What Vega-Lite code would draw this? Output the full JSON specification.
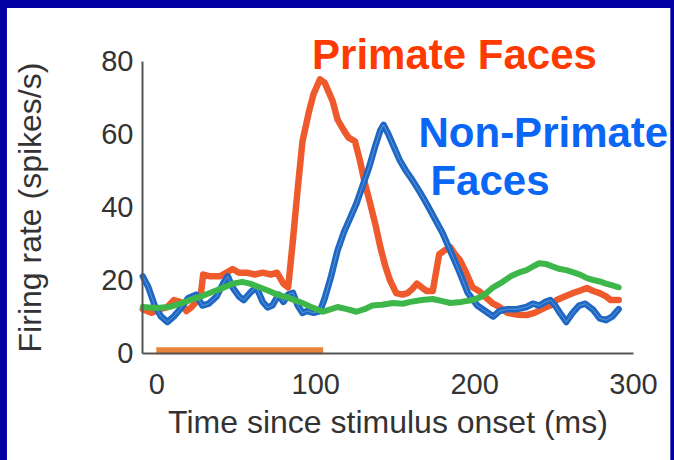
{
  "$schema": "https://vega.github.io/schema/vega-lite/v6.json",
  "width": 491,
  "height": 292,
  "autosize": {"type": "none"},
  "padding": {"left": 142, "top": 61, "right": 41, "bottom": 107},
  "background": "#0000A6",
  "config": {"view": {"stroke": null}, "font": "Liberation Sans"},
  "datasets": {
    "primate": [
      {"time": -8.5, "rate": 12}, {"time": -3, "rate": 11}, {"time": 2, "rate": 12}, {"time": 7, "rate": 12.6}, {"time": 11, "rate": 14.5}, {"time": 15, "rate": 14}, {"time": 19, "rate": 11.5}, {"time": 22, "rate": 12.5}, {"time": 26, "rate": 14.5}, {"time": 28, "rate": 16}, {"time": 29.5, "rate": 21.5}, {"time": 34, "rate": 21}, {"time": 40, "rate": 21}, {"time": 44, "rate": 22}, {"time": 48, "rate": 23}, {"time": 52, "rate": 22}, {"time": 57, "rate": 22}, {"time": 62, "rate": 21.5}, {"time": 67, "rate": 22}, {"time": 72, "rate": 21.5}, {"time": 76, "rate": 22}, {"time": 80, "rate": 19}, {"time": 83, "rate": 18}, {"time": 86, "rate": 31}, {"time": 89, "rate": 45}, {"time": 92, "rate": 58}, {"time": 96, "rate": 66}, {"time": 99, "rate": 71}, {"time": 103, "rate": 75}, {"time": 106, "rate": 74}, {"time": 109, "rate": 71}, {"time": 111, "rate": 69}, {"time": 114, "rate": 64}, {"time": 118, "rate": 61}, {"time": 121, "rate": 59}, {"time": 125, "rate": 58}, {"time": 128, "rate": 53}, {"time": 131, "rate": 47}, {"time": 134, "rate": 42}, {"time": 138, "rate": 35}, {"time": 141, "rate": 29}, {"time": 144, "rate": 24}, {"time": 147, "rate": 20}, {"time": 151, "rate": 16.4}, {"time": 155, "rate": 16}, {"time": 158, "rate": 16.4}, {"time": 161, "rate": 17.5}, {"time": 164, "rate": 19}, {"time": 167, "rate": 18}, {"time": 170, "rate": 17}, {"time": 174, "rate": 17}, {"time": 178, "rate": 27}, {"time": 181, "rate": 28}, {"time": 185, "rate": 29}, {"time": 188, "rate": 27}, {"time": 191, "rate": 25.5}, {"time": 195, "rate": 22}, {"time": 199, "rate": 18}, {"time": 203, "rate": 17}, {"time": 208, "rate": 15}, {"time": 212, "rate": 13.5}, {"time": 216, "rate": 12.6}, {"time": 221, "rate": 11}, {"time": 227, "rate": 10.5}, {"time": 233, "rate": 10.4}, {"time": 238, "rate": 11}, {"time": 244, "rate": 12.3}, {"time": 248, "rate": 13}, {"time": 252, "rate": 14.5}, {"time": 257, "rate": 15.5}, {"time": 262, "rate": 16.4}, {"time": 266, "rate": 17}, {"time": 271, "rate": 17.8}, {"time": 275, "rate": 17}, {"time": 279, "rate": 16.4}, {"time": 283, "rate": 15.5}, {"time": 286, "rate": 14.5}, {"time": 291, "rate": 14.5}
    ],
    "nonprimate": [
      {"time": -8.5, "rate": 21}, {"time": -5, "rate": 18}, {"time": -1, "rate": 13}, {"time": 3, "rate": 10}, {"time": 7, "rate": 8.5}, {"time": 11, "rate": 10}, {"time": 15, "rate": 12}, {"time": 20, "rate": 15}, {"time": 25, "rate": 16}, {"time": 29, "rate": 13}, {"time": 33, "rate": 13.5}, {"time": 38, "rate": 15.5}, {"time": 42, "rate": 19}, {"time": 45, "rate": 21}, {"time": 48, "rate": 18}, {"time": 52, "rate": 15.5}, {"time": 55, "rate": 14.5}, {"time": 59, "rate": 16.5}, {"time": 63, "rate": 18}, {"time": 67, "rate": 14}, {"time": 70, "rate": 12.5}, {"time": 73, "rate": 13}, {"time": 77, "rate": 16}, {"time": 80, "rate": 14}, {"time": 83, "rate": 16}, {"time": 86, "rate": 16.5}, {"time": 89, "rate": 13}, {"time": 92, "rate": 11}, {"time": 95, "rate": 11.5}, {"time": 99, "rate": 11}, {"time": 103, "rate": 11.5}, {"time": 106, "rate": 15}, {"time": 110, "rate": 21}, {"time": 114, "rate": 28}, {"time": 118, "rate": 33}, {"time": 122, "rate": 37}, {"time": 126, "rate": 41}, {"time": 130, "rate": 46}, {"time": 134, "rate": 51}, {"time": 138, "rate": 57}, {"time": 141, "rate": 61}, {"time": 143, "rate": 62.5}, {"time": 146, "rate": 60}, {"time": 150, "rate": 56}, {"time": 153, "rate": 53}, {"time": 157, "rate": 50}, {"time": 161, "rate": 47.5}, {"time": 166, "rate": 44}, {"time": 170, "rate": 41}, {"time": 175, "rate": 37}, {"time": 180, "rate": 33}, {"time": 185, "rate": 28}, {"time": 191, "rate": 22}, {"time": 196, "rate": 16.5}, {"time": 202, "rate": 13}, {"time": 207, "rate": 11.5}, {"time": 212, "rate": 10}, {"time": 216, "rate": 11.5}, {"time": 221, "rate": 12}, {"time": 227, "rate": 12}, {"time": 233, "rate": 12.6}, {"time": 237, "rate": 13.5}, {"time": 241, "rate": 13}, {"time": 245, "rate": 14}, {"time": 248, "rate": 14.5}, {"time": 251, "rate": 13}, {"time": 254, "rate": 11}, {"time": 258, "rate": 8.5}, {"time": 262, "rate": 11}, {"time": 266, "rate": 13}, {"time": 270, "rate": 13.5}, {"time": 275, "rate": 11.8}, {"time": 279, "rate": 9.5}, {"time": 283, "rate": 9}, {"time": 287, "rate": 10}, {"time": 291, "rate": 12}
    ],
    "other": [
      {"time": -8.5, "rate": 12.6}, {"time": 0, "rate": 12.3}, {"time": 8, "rate": 12.6}, {"time": 15, "rate": 13.5}, {"time": 21, "rate": 14.5}, {"time": 27, "rate": 15.3}, {"time": 34, "rate": 16.5}, {"time": 40, "rate": 17.5}, {"time": 48, "rate": 19}, {"time": 54, "rate": 19.5}, {"time": 59, "rate": 19}, {"time": 65, "rate": 18}, {"time": 71, "rate": 17}, {"time": 76, "rate": 16}, {"time": 82, "rate": 15.3}, {"time": 87, "rate": 14.5}, {"time": 92, "rate": 13.7}, {"time": 98, "rate": 12.5}, {"time": 105, "rate": 11.3}, {"time": 110, "rate": 12}, {"time": 114, "rate": 12.6}, {"time": 120, "rate": 12}, {"time": 126, "rate": 11.3}, {"time": 131, "rate": 12}, {"time": 136, "rate": 13}, {"time": 142, "rate": 13.2}, {"time": 149, "rate": 13.7}, {"time": 155, "rate": 13.5}, {"time": 160, "rate": 14}, {"time": 167, "rate": 14.5}, {"time": 174, "rate": 14.8}, {"time": 180, "rate": 14.2}, {"time": 185, "rate": 13.7}, {"time": 192, "rate": 14}, {"time": 199, "rate": 14.5}, {"time": 204, "rate": 15.3}, {"time": 208, "rate": 16.5}, {"time": 212, "rate": 18}, {"time": 218, "rate": 19.5}, {"time": 223, "rate": 21}, {"time": 228, "rate": 22}, {"time": 233, "rate": 22.7}, {"time": 237, "rate": 23.7}, {"time": 241, "rate": 24.6}, {"time": 245, "rate": 24.4}, {"time": 250, "rate": 23.6}, {"time": 254, "rate": 23}, {"time": 258, "rate": 22.7}, {"time": 263, "rate": 22}, {"time": 267, "rate": 21.4}, {"time": 271, "rate": 20.5}, {"time": 275, "rate": 20}, {"time": 279, "rate": 19.6}, {"time": 283, "rate": 19}, {"time": 287, "rate": 18.5}, {"time": 291, "rate": 18}
    ],
    "stimulus": [{"start": 0, "end": 105}]
  },
  "layer": [
    {
      "data": {"values": [{}]},
      "mark": {"type": "rect", "color": "white"},
      "encoding": {
        "x": {"datum": -94, "type": "quantitative", "scale": {"domain": [-9, 300], "nice": false, "zero": false}, "title": "Time since stimulus onset (ms)"},
        "x2": {"datum": 323.5},
        "y": {"datum": 94.5, "type": "quantitative", "scale": {"domain": [0, 80], "nice": false}, "title": "Firing rate (spikes/s)"},
        "y2": {"datum": -40}
      }
    },
    {
      "data": {"name": "primate"},
      "mark": {"type": "line", "color": "#EE5A2C", "strokeWidth": 6.5, "strokeJoin": "round", "strokeCap": "round"},
      "encoding": {
        "x": {
          "field": "time", "type": "quantitative",
          "title": "Time since stimulus onset (ms)",
          "axis": {"zindex": 1, "values": [0, 100, 200, 300], "ticks": false, "tickSize": 0, "grid": false, "labelFontSize": 29, "labelColor": "#333333", "labelPadding": 17, "labelFont": "Liberation Sans", "domainColor": "#555555", "domainWidth": 2, "titleFontSize": 32, "titleFontWeight": "normal", "titleColor": "#333333", "titleFont": "Liberation Sans", "titlePadding": 8, "labelFlush": false, "labelOverlap": false}
        },
        "y": {
          "field": "rate", "type": "quantitative",
          "title": "Firing rate (spikes/s)",
          "axis": {"zindex": 1, "values": [0, 20, 40, 60, 80], "ticks": false, "tickSize": 0, "grid": false, "labelFontSize": 29, "labelColor": "#333333", "labelPadding": 9, "labelFont": "Liberation Sans", "domainColor": "#555555", "domainWidth": 2, "titleFontSize": 32, "titleFontWeight": "normal", "titleColor": "#333333", "titleFont": "Liberation Sans", "titlePadding": 53, "labelFlush": false, "labelOverlap": false}
        }
      }
    },
    {
      "data": {"name": "nonprimate"},
      "mark": {"type": "line", "color": "#1E68C4", "strokeWidth": 6.5, "strokeJoin": "round", "strokeCap": "round"},
      "encoding": {
        "x": {"field": "time", "type": "quantitative"},
        "y": {"field": "rate", "type": "quantitative"}
      }
    },
    {
      "data": {"name": "nonprimate"},
      "mark": {"type": "line", "color": "#A9C8EE", "strokeWidth": 1, "opacity": 0.45},
      "encoding": {
        "x": {"field": "time", "type": "quantitative"},
        "y": {"field": "rate", "type": "quantitative"}
      }
    },
    {
      "data": {"name": "other"},
      "mark": {"type": "line", "color": "#3DB64A", "strokeWidth": 6, "strokeJoin": "round", "strokeCap": "round"},
      "encoding": {
        "x": {"field": "time", "type": "quantitative"},
        "y": {"field": "rate", "type": "quantitative"}
      }
    },
    {
      "data": {"name": "stimulus"},
      "mark": {"type": "rule", "color": "#E8843C", "strokeWidth": 7},
      "encoding": {
        "x": {"field": "start", "type": "quantitative"},
        "x2": {"field": "end"},
        "y": {"datum": 0.6, "type": "quantitative"}
      }
    },
    {
      "data": {"values": [{}]},
      "mark": {"type": "text", "text": "Primate Faces", "font": "Liberation Sans", "fontWeight": "bold", "fontSize": 42, "color": "#FF3A00", "align": "left", "baseline": "alphabetic"},
      "encoding": {
        "x": {"datum": 98, "type": "quantitative"},
        "y": {"datum": 77.7, "type": "quantitative"}
      }
    },
    {
      "data": {"values": [{}]},
      "mark": {"type": "text", "text": "Non-Primate", "font": "Liberation Sans", "fontWeight": "bold", "fontSize": 42, "color": "#0A66F5", "align": "left", "baseline": "alphabetic"},
      "encoding": {
        "x": {"datum": 165, "type": "quantitative"},
        "y": {"datum": 56.4, "type": "quantitative"}
      }
    },
    {
      "data": {"values": [{}]},
      "mark": {"type": "text", "text": "Faces", "font": "Liberation Sans", "fontWeight": "bold", "fontSize": 42, "color": "#0A66F5", "align": "left", "baseline": "alphabetic"},
      "encoding": {
        "x": {"datum": 172.5, "type": "quantitative"},
        "y": {"datum": 43.3, "type": "quantitative"}
      }
    }
  ]
}
